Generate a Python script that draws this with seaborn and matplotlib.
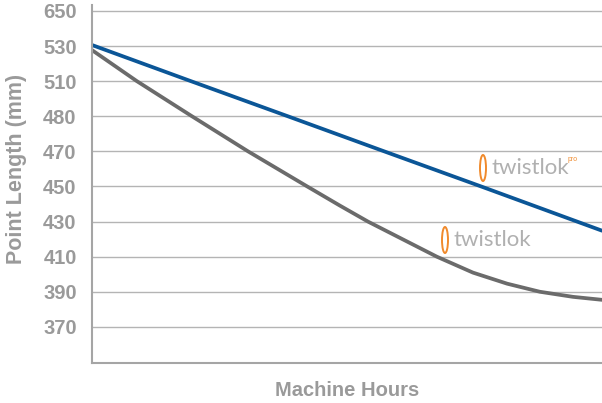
import numpy as np
import pandas as pd
import matplotlib
matplotlib.use("Agg")
import matplotlib.pyplot as plt
from matplotlib.patches import Ellipse
from matplotlib.transforms import ScaledTranslation
import seaborn as sns

# y tick labels, bottom to top (evenly spaced on the chart)
tick_labels = [370, 390, 410, 430, 450, 470, 480, 510, 530, 650]

# (x = machine hours, arbitrary 0-100 scale; y = point length in mm)
pro_hours = [0, 19.4, 38.4, 57.3, 76.3, 95.1, 100]
pro_length = [533.6, 510, 480, 470, 450, 430, 424.8]

std_hours = [0, 8.8, 19.6, 30.6, 42.2, 48.6, 54.1, 67.6, 74.7, 81.4, 87.8, 94.3, 100]
std_length = [527.7, 510, 480, 470, 450, 439.1, 430, 410, 400.9, 394.6, 390, 387.1, 385.4]

# the axis labels are not linear, so map mm onto tick positions
positions = np.arange(len(tick_labels))


def to_pos(vals):
    return np.interp(vals, tick_labels, positions)


df_pro = pd.DataFrame({"hours": pro_hours, "pos": to_pos(pro_length)})
df_std = pd.DataFrame({"hours": std_hours, "pos": to_pos(std_length)})

sns.set_theme(style="white")
plt.rcParams["font.family"] = ["Liberation Sans", "DejaVu Sans"]

W, H = 602, 403
fig = plt.figure(figsize=(W / 100, H / 100), dpi=100)
ax = fig.add_axes([92 / W, 40 / H, 1 - 92 / W, (363 - 5) / H])

grey_txt = "#9a9a9a"

sns.lineplot(data=df_std, x="hours", y="pos", ax=ax, color="#6b6b6b", linewidth=2.7)
sns.lineplot(data=df_pro, x="hours", y="pos", ax=ax, color="#0b5697", linewidth=2.7)

ax.set_xlim(0, 100)
ax.set_ylim(-1.03, 9.17)
ax.set_yticks(positions)
ax.set_yticklabels([str(t) for t in tick_labels], fontsize=14.5, fontweight="bold", color=grey_txt)
# labels sit a little below their gridlines
shift = ScaledTranslation(0, -3 / 100, fig.dpi_scale_trans)
for lab in ax.get_yticklabels():
    lab.set_transform(lab.get_transform() + shift)
ax.set_xticks([])
ax.tick_params(axis="y", length=0, pad=11)
ax.grid(axis="y", color="#b4b4b4", linewidth=1)
ax.set_axisbelow(True)

for side in ["top", "right"]:
    ax.spines[side].set_visible(False)
for side in ["left", "bottom"]:
    ax.spines[side].set_color("#a5a5a5")
    ax.spines[side].set_linewidth(1.5)

ax.set_xlabel("Machine Hours", fontsize=14.5, fontweight="bold", color=grey_txt, labelpad=13)
ax.set_ylabel("")
fig.text(17 / W, 1 - 169 / H, "Point Length (mm)", rotation=90, ha="center", va="center",
         fontsize=15.5, fontweight="bold", color=grey_txt)

# twistlok logos
orange = "#f08a2c"


def logo(px, py, pro=False):
    fig.patches.append(Ellipse((px / W, 1 - py / H), 6 / W, 26 / H, transform=fig.transFigure,
                               fill=False, edgecolor=orange, linewidth=1.4))
    fig.text((px + 8) / W, 1 - py / H, "twistlok", ha="left", va="center", fontsize=16,
             color="#b0b0b0", family=["Lato", "DejaVu Sans"])
    if pro:
        fig.text((px + 85) / W, 1 - (py - 9) / H, "pro", ha="left", va="center", fontsize=5,
                 color=orange)


logo(483, 168, pro=True)
logo(445, 240)

fig.savefig("out.png", dpi=100, facecolor="white")
